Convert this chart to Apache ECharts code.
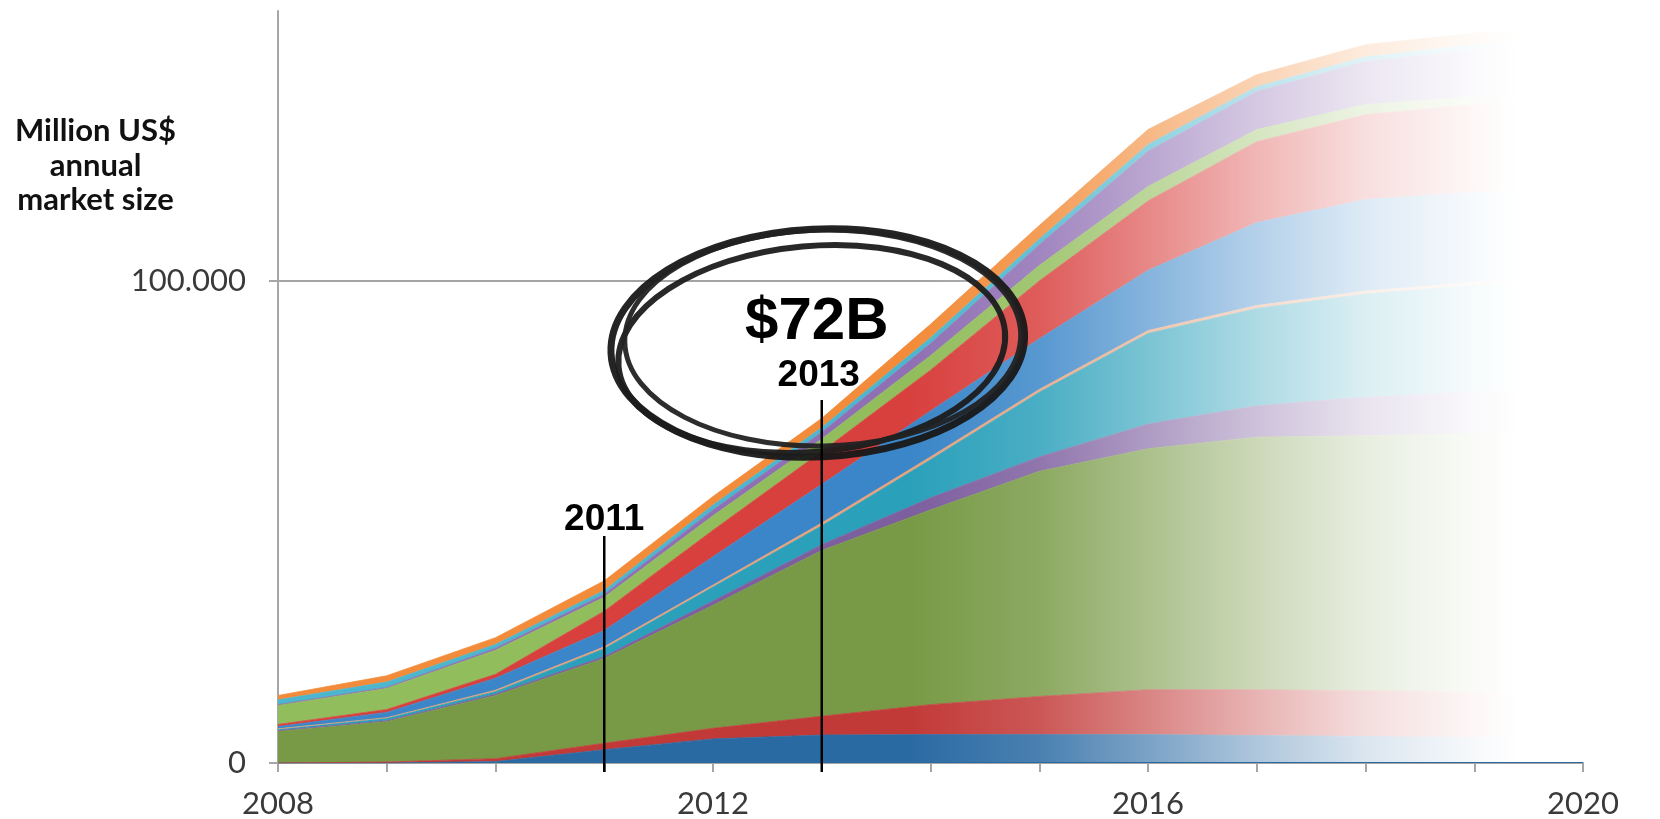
<!DOCTYPE html>
<html>
<head>
<meta charset="utf-8">
<script src="https://cdn.jsdelivr.net/npm/echarts@6/dist/echarts.min.js"></script>
<style>
html, body { margin: 0; padding: 0; background: #fff; }
#main { width: 1660px; height: 819px; }
</style>
</head>
<body>
<div id="main"></div>
<script>
// annual market size, million US$, one array per stacked segment (bottom -> top)
var years = ['2008', '2009', '2010', '2011', '2012', '2013', '2014', '2015', '2016', '2017', '2018', '2019', '2020'];

var seg1  = [0, 0, 300, 2750, 5000, 5800, 5900, 5900, 5900, 5700, 5500, 5300, 5200];
var seg2  = [0, 200, 600, 1350, 2200, 3900, 6200, 7900, 9300, 9500, 9500, 9400, 9300];
var seg3  = [6600, 8400, 13100, 17600, 25500, 34400, 40400, 46700, 50000, 52400, 52900, 53600, 54000];
var seg4  = [150, 200, 300, 400, 900, 1200, 2500, 3000, 5100, 6500, 8000, 8700, 9000];
var seg5  = [250, 500, 500, 1600, 2900, 3900, 7900, 13400, 18800, 20200, 21400, 22100, 22400];
var seg6  = [100, 100, 300, 400, 400, 600, 600, 600, 600, 600, 600, 600, 600];
var seg7  = [450, 1100, 2500, 3400, 5900, 8000, 9500, 10500, 12500, 17200, 19000, 18700, 18500];
var seg8  = [450, 600, 800, 4000, 5500, 6800, 8500, 12000, 14400, 16800, 17600, 18200, 18500];
var seg9  = [4000, 4400, 5000, 2900, 3000, 2600, 3000, 3200, 3000, 2500, 2100, 1600, 1500];
var seg10 = [100, 200, 400, 600, 1200, 1400, 2500, 4300, 7300, 7900, 8900, 9700, 9800];
var seg11 = [1000, 1100, 800, 800, 1000, 1000, 1200, 1200, 1400, 1000, 1000, 1100, 1200];
var seg12 = [900, 1300, 1400, 2000, 1800, 1900, 2800, 2800, 3100, 2500, 2500, 2400, 2500];

var yTicks = [0, 100000];
var yMax = 156000;

var segments = [seg1, seg2, seg3, seg4, seg5, seg6, seg7, seg8, seg9, seg10, seg11, seg12];
var colors = ['#2a6aa3', '#c23a38', '#789a46', '#7d5e9f', '#2aa0ba', '#e9a27a',
              '#3a86c8', '#d8403e', '#92bd5c', '#9070b4', '#4bb6cd', '#f28c3a'];

function fmt(v) {
    return String(v).replace(/\B(?=(\d{3})+(?!\d))/g, '.');
}

var series = segments.map(function (d, i) {
    return {
        name: 'segment ' + (i + 1),
        type: 'line',
        stack: 'market',
        data: d,
        symbol: 'none',
        smooth: false,
        lineStyle: { width: 0.8, color: colors[i] },
        areaStyle: { color: colors[i], opacity: 1 },
        emphasis: { disabled: true },
        z: 2
    };
});

var option = {
    animation: false,
    backgroundColor: '#fff',
    grid: { left: 278, right: 77, top: 11, bottom: 54 },
    xAxis: {
        type: 'category',
        data: years,
        boundaryGap: false,
        axisLine: { lineStyle: { color: '#a6a6a6', width: 2 } },
        axisTick: { show: true, interval: 0, length: 9, lineStyle: { color: '#a6a6a6', width: 2 } },
        axisLabel: { interval: 3, fontFamily: 'Lato', fontSize: 31, color: '#3a3a3a', margin: 25 },
        splitLine: { show: false }
    },
    yAxis: {
        type: 'value',
        min: 0,
        max: yMax,
        interval: 100000,
        axisLine: { show: true, lineStyle: { color: '#a6a6a6', width: 2 } },
        axisTick: { show: true, length: 9, customValues: yTicks, lineStyle: { color: '#a6a6a6', width: 2 } },
        axisLabel: { customValues: yTicks, fontFamily: 'Lato', fontSize: 31, color: '#3a3a3a', margin: 32, formatter: fmt },
        splitLine: { show: true, lineStyle: { color: ['#a3a3a3', '#a3a3a3', 'rgba(0,0,0,0)'], width: 2 } }
    },
    series: series
};

var chart = echarts.init(document.getElementById('main'));
chart.setOption(option);

// pixel helpers from the axes
var p13 = chart.convertToPixel({ gridIndex: 0 }, [5, 0]);
var p14 = chart.convertToPixel({ gridIndex: 0 }, [6, 0]);
var step = p14[0] - p13[0];
var axisY = p13[1];
function yearX(y) { return p13[0] + (y - 2013) * step; }

// white fade towards the forecast years
var fadeStops = [[2013.8, 0], [2015, 0.15], [2016, 0.38], [2017, 0.62], [2018, 0.83], [2019, 0.96], [2019.4, 1]];
var fx0 = yearX(2013.8);
var fw = 1660 - fx0;
var stops = fadeStops.map(function (s) {
    return { offset: Math.min(1, (yearX(s[0]) - fx0) / fw), color: 'rgba(255,255,255,' + s[1] + ')' };
});
stops.push({ offset: 1, color: 'rgba(255,255,255,1)' });

var x11 = yearX(2011), x13 = yearX(2013);

chart.setOption({
    graphic: [
        {
            type: 'rect', z: 5, silent: true,
            shape: { x: fx0, y: 0, width: fw, height: axisY - 1 },
            style: { fill: new echarts.graphic.LinearGradient(0, 0, 1, 0, stops) }
        },
        {
            type: 'text', z: 10, left: 15, top: 114,
            style: {
                text: 'Million US$\nannual\nmarket size',
                x: 78, textAlign: 'center',
                fontFamily: 'Lato', fontWeight: 'bold', fontSize: 31, lineHeight: 34.5, fill: '#111'
            }
        },
        // hand drawn ring round the 2013 figure
        { type: 'ellipse', z: 10, x: x13 - 4, y: 343, rotation: 0.05, shape: { cx: 0, cy: 0, rx: 207, ry: 114 },
          style: { fill: 'none', stroke: '#181818', lineWidth: 7, opacity: 0.95 } },
        { type: 'ellipse', z: 10, x: x13 - 10, y: 349, rotation: 0.09, shape: { cx: 0, cy: 0, rx: 194, ry: 103 },
          style: { fill: 'none', stroke: '#1c1c1c', lineWidth: 6, opacity: 0.95 } },
        { type: 'ellipse', z: 10, x: x13 + 1, y: 338, rotation: 0.02, shape: { cx: 0, cy: 0, rx: 198, ry: 108 },
          style: { fill: 'none', stroke: '#222', lineWidth: 5, opacity: 0.95 } },
        { type: 'text', z: 11, x: x13 - 5, y: 322,
          style: { text: '$72B', textAlign: 'center', textVerticalAlign: 'middle',
                   fontFamily: 'Liberation Sans', fontWeight: 'bold', fontSize: 60, fill: '#000' } },
        { type: 'text', z: 11, x: x13 - 3, y: 376,
          style: { text: '2013', textAlign: 'center', textVerticalAlign: 'middle',
                   fontFamily: 'Liberation Sans', fontWeight: 'bold', fontSize: 37, fill: '#000' } },
        { type: 'line', z: 11, shape: { x1: x13, y1: 400, x2: x13, y2: axisY + 9 },
          style: { stroke: '#000', lineWidth: 2.5 } },
        { type: 'text', z: 11, x: x11, y: 520,
          style: { text: '2011', textAlign: 'center', textVerticalAlign: 'middle',
                   fontFamily: 'Liberation Sans', fontWeight: 'bold', fontSize: 37, fill: '#000' } },
        { type: 'line', z: 11, shape: { x1: x11, y1: 536, x2: x11, y2: axisY + 9 },
          style: { stroke: '#000', lineWidth: 2.5 } }
    ]
});
</script>
</body>
</html>
